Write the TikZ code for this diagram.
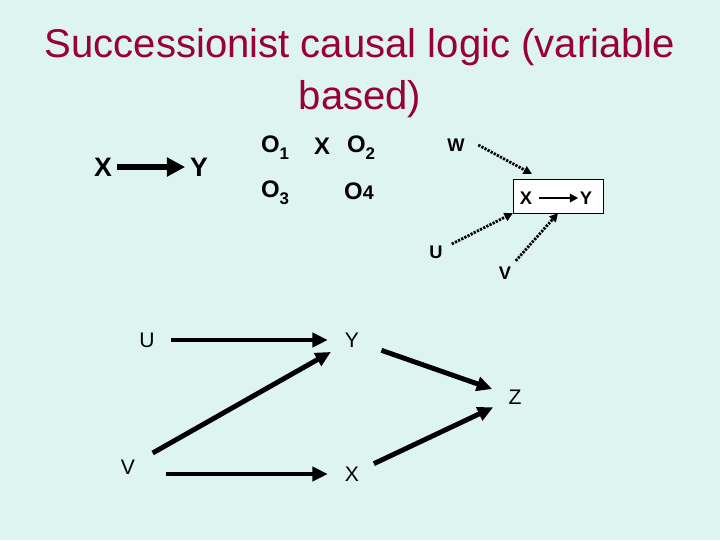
\documentclass[tikz,border=0pt]{standalone}
\usepackage{fontspec}
\setmainfont{Liberation Sans}
\usetikzlibrary{arrows.meta}
\definecolor{bgcol}{HTML}{DDF4F1}
\definecolor{ttlcol}{HTML}{990033}
\newcommand\fs[1]{\fontsize{#1}{#1}\selectfont}
\newcommand\sbx[1]{\raisebox{-0.55ex}{\fs{12}#1}}

\begin{document}
\begin{tikzpicture}[x=0.025cm,y=-0.025cm]
\tikzstyle{thk}=[-{Triangle[length=11pt,width=10pt]},line width=3.5pt]
\tikzstyle{dotarr}=[-{Triangle[length=6pt,width=6pt]},line width=2pt,dash pattern=on 1.6pt off 0.9pt]
\tikzstyle{v}=[circle,minimum size=34pt,inner sep=0pt,font=\fs{15}]
\tikzstyle{sm}=[inner sep=1pt,font=\fs{13}\bfseries]
\fill[bgcol] (0,0) rectangle (720,540);
\node[ttlcol,font=\fs{28.5},align=center,text depth=0pt] (title) at (360,69) {Successionist causal logic (variable\\[9pt]based)};
% simple pair
\node[font=\fs{19}\bfseries] (x0) at (103,167) {X};
\node[font=\fs{19}\bfseries] (y0) at (199,167) {Y};
\draw[-{Triangle[length=13pt,width=13pt]},line width=4.5pt] (x0) -- (y0);
% observations
\node[font=\fs{17}\bfseries] (o1) at (275,148) {O\sbx{1}};
\node[font=\fs{17}\bfseries] (xo) at (322,146) {X};
\node[font=\fs{17}\bfseries] (o2) at (361,148) {O\sbx{2}};
\node[font=\fs{17}\bfseries] (o3) at (275,193) {O\sbx{3}};
\node[font=\fs{17}\bfseries] (o4) at (359,191) {O{\fs{14}4}};
% box with confounders
\node[draw,fill=white,minimum width=63.8pt,minimum height=24pt] (box) at (558,196) {};
\node[sm] (bx) at (526,198) {X};
\node[sm] (by) at (586,198) {Y};
\draw[-{Triangle[length=6pt,width=6pt]},line width=1.6pt,shorten <=4pt] (bx) -- (by);
\node[sm] (w) at (456,145) {W};
\node[sm] (u1) at (436,252) {U};
\node[sm] (v1) at (505,273) {V};
\path (w.east) ++(12,0) coordinate (wst);
\coordinate (wend) at (532,174);
\draw[dotarr] (wst) -- (wend);
\draw[dotarr,shorten <=6pt] (u1) -- (box.south west);
\draw[dotarr,shorten <=4pt] (v1) -- (box.south);
% graph
\node[v] (u) at (147,340) {U};
\node[v] (y) at (352,340) {Y};
\node[v] (z) at (515,397) {Z};
\node[v] (v) at (128,467) {V};
\node[v] (x) at (352,474) {X};
\draw[thk] (u) -- (y);
\draw[thk,shorten <=3pt] (v) -- (y);
\draw[thk,shorten <=5pt] (y) -- (z);
\draw[thk,shorten <=10pt] (v.east |- x.west) -- (x.west);
\draw[thk] (x) -- (z);
\end{tikzpicture}
\end{document}
